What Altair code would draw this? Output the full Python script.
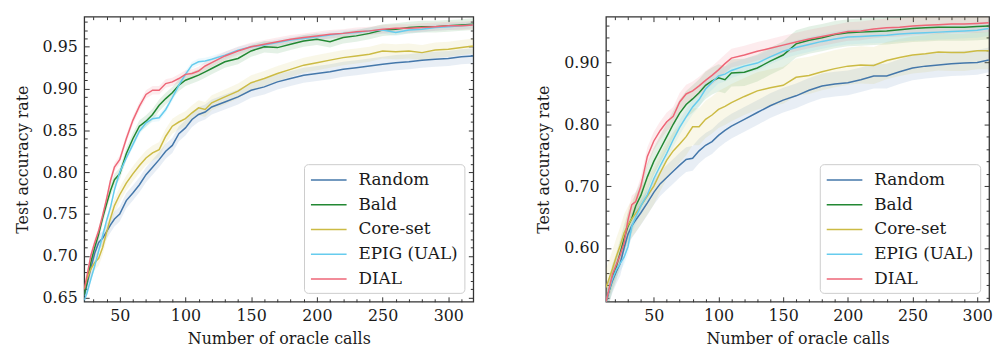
import altair as alt
import pandas as pd

METHODS = ["Random", "Bald", "Core-set", "EPIG (UAL)", "DIAL"]
COLORS = ["#4477AA", "#228833", "#CCBB44", "#66CCEE", "#EE6677"]

# ---------------- left panel ----------------
L_X = [23, 25, 28, 31, 34, 37, 40, 43, 46, 50, 55, 60, 65, 70, 75, 80, 85, 90, 95, 100,
       105, 110, 115, 120, 130, 140, 150, 160, 170, 180, 190, 200, 210, 220, 230, 240,
       250, 260, 270, 280, 290, 300, 310, 319]
L_RANDOM = [0.652, 0.665, 0.685, 0.703, 0.716, 0.721, 0.729, 0.737, 0.744, 0.750, 0.766,
            0.775, 0.785, 0.797, 0.806, 0.815, 0.825, 0.832, 0.846, 0.853, 0.863, 0.869,
            0.872, 0.878, 0.884, 0.890, 0.898, 0.902, 0.908, 0.912, 0.916, 0.918, 0.920,
            0.923, 0.925, 0.927, 0.929, 0.931, 0.932, 0.934, 0.935, 0.936, 0.938, 0.939]
L_BALD = [0.653, 0.668, 0.692, 0.710, 0.726, 0.745, 0.762, 0.778, 0.791, 0.798, 0.822,
          0.840, 0.855, 0.861, 0.869, 0.880, 0.888, 0.895, 0.904, 0.910, 0.913, 0.916,
          0.920, 0.924, 0.932, 0.936, 0.945, 0.950, 0.949, 0.953, 0.957, 0.959, 0.956,
          0.961, 0.963, 0.966, 0.970, 0.971, 0.973, 0.974, 0.974, 0.975, 0.976, 0.977]
L_CORESET = [0.660, 0.672, 0.684, 0.692, 0.697, 0.710, 0.728, 0.745, 0.760, 0.773, 0.787,
             0.798, 0.808, 0.817, 0.823, 0.827, 0.843, 0.855, 0.860, 0.864, 0.871, 0.877,
             0.875, 0.883, 0.890, 0.897, 0.907, 0.912, 0.918, 0.923, 0.928, 0.931, 0.934,
             0.937, 0.939, 0.941, 0.945, 0.944, 0.945, 0.943, 0.946, 0.947, 0.949, 0.951]
L_EPIG = [0.647, 0.655, 0.672, 0.688, 0.706, 0.724, 0.742, 0.758, 0.779, 0.800, 0.817,
          0.833, 0.849, 0.859, 0.864, 0.865, 0.875, 0.889, 0.904, 0.917, 0.928, 0.932,
          0.933, 0.935, 0.940, 0.946, 0.950, 0.952, 0.955, 0.958, 0.960, 0.962, 0.964,
          0.966, 0.967, 0.969, 0.970, 0.967, 0.970, 0.971, 0.973, 0.974, 0.975, 0.976]
L_DIAL = [0.660, 0.675, 0.700, 0.716, 0.730, 0.748, 0.768, 0.790, 0.806, 0.815, 0.840,
          0.862, 0.879, 0.893, 0.898, 0.898, 0.906, 0.908, 0.912, 0.917, 0.918, 0.921,
          0.927, 0.931, 0.939, 0.945, 0.950, 0.953, 0.956, 0.959, 0.961, 0.963, 0.965,
          0.966, 0.968, 0.969, 0.971, 0.972, 0.972, 0.973, 0.974, 0.975, 0.975, 0.976]
L_HALF = [0.009, 0.007, 0.009, 0.004, 0.005]

L_XTICKS = [50, 100, 150, 200, 250, 300]
L_XMINOR = [30, 40, 60, 70, 80, 90, 110, 120, 130, 140, 160, 170, 180, 190, 210, 220,
            230, 240, 260, 270, 280, 290, 310]
L_YTICKS = [0.65, 0.70, 0.75, 0.80, 0.85, 0.90, 0.95]
L_YMINOR = [round(0.65 + 0.01 * i, 2) for i in range(34) if i % 5]

# ---------------- right panel ----------------
R_X = [13, 15, 18, 21, 24, 27, 30, 33, 36, 40, 45, 50, 55, 60, 65, 70, 75, 80, 85, 90,
       95, 100, 105, 110, 120, 130, 140, 150, 160, 170, 180, 190, 200, 210, 220, 230,
       240, 250, 260, 270, 280, 290, 300, 309]
R_RANDOM = [0.513, 0.528, 0.547, 0.562, 0.575, 0.600, 0.622, 0.636, 0.645, 0.657, 0.673,
            0.690, 0.704, 0.714, 0.724, 0.734, 0.743, 0.745, 0.757, 0.766, 0.772, 0.782,
            0.790, 0.797, 0.808, 0.819, 0.830, 0.839, 0.846, 0.855, 0.862, 0.865, 0.867,
            0.872, 0.878, 0.878, 0.885, 0.891, 0.894, 0.896, 0.898, 0.899, 0.900, 0.904]
R_BALD = [0.513, 0.528, 0.552, 0.570, 0.592, 0.615, 0.635, 0.648, 0.668, 0.685, 0.715,
          0.740, 0.760, 0.780, 0.800, 0.818, 0.832, 0.841, 0.851, 0.863, 0.870, 0.875,
          0.872, 0.883, 0.884, 0.891, 0.902, 0.912, 0.930, 0.936, 0.940, 0.945, 0.948,
          0.949, 0.950, 0.951, 0.953, 0.955, 0.956, 0.957, 0.957, 0.957, 0.958, 0.959]
R_CORESET = [0.536, 0.548, 0.566, 0.586, 0.604, 0.624, 0.637, 0.647, 0.656, 0.668, 0.684,
             0.700, 0.722, 0.742, 0.757, 0.768, 0.780, 0.796, 0.796, 0.808, 0.815, 0.824,
             0.829, 0.835, 0.845, 0.854, 0.859, 0.863, 0.876, 0.879, 0.885, 0.890, 0.894,
             0.896, 0.895, 0.903, 0.908, 0.912, 0.914, 0.917, 0.916, 0.916, 0.919, 0.919]
R_EPIG = [0.513, 0.528, 0.550, 0.565, 0.575, 0.585, 0.602, 0.635, 0.650, 0.668, 0.686,
          0.712, 0.733, 0.753, 0.775, 0.795, 0.812, 0.828, 0.840, 0.857, 0.868, 0.878,
          0.881, 0.887, 0.894, 0.899, 0.909, 0.918, 0.924, 0.929, 0.934, 0.938, 0.941,
          0.942, 0.943, 0.944, 0.946, 0.947, 0.948, 0.949, 0.950, 0.951, 0.952, 0.955]
R_DIAL = [0.513, 0.530, 0.557, 0.573, 0.589, 0.608, 0.645, 0.670, 0.675, 0.700, 0.748,
          0.773, 0.790, 0.804, 0.813, 0.836, 0.849, 0.854, 0.862, 0.871, 0.879, 0.888,
          0.898, 0.907, 0.912, 0.918, 0.923, 0.928, 0.933, 0.938, 0.942, 0.946, 0.950,
          0.951, 0.954, 0.956, 0.957, 0.959, 0.960, 0.961, 0.962, 0.962, 0.963, 0.964]
R_HALF = [0.020, 0.022, 0.030, 0.012, 0.015]

R_XTICKS = [50, 100, 150, 200, 250, 300]
R_XMINOR = [20, 30, 40, 60, 70, 80, 90, 110, 120, 130, 140, 160, 170, 180, 190, 210, 220,
            230, 240, 260, 270, 280, 290]
R_YTICKS = [0.60, 0.70, 0.80, 0.90]
R_YMINOR = [round(0.52 + 0.02 * i, 2) for i in range(23)
            if round(0.52 + 0.02 * i, 2) not in (0.6, 0.7, 0.8, 0.9)]

FONT = "DejaVu Serif"


def build(xs, series, halves):
    rows = []
    for m, c, ys, h in zip(METHODS, COLORS, series, halves):
        for x, y in zip(xs, ys):
            rows.append({"x": x, "y": y, "lo": y - h, "hi": y + h, "method": m, "col": c})
    return pd.DataFrame(rows)


def panel(df, xdom, ydom, xt, xm, yt, ym, w, h):
    xs = alt.Scale(domain=xdom, nice=False, zero=False)
    ys = alt.Scale(domain=ydom, nice=False, zero=False)
    cscale = alt.Scale(domain=METHODS, range=COLORS)
    base = alt.Chart(df)

    band = base.mark_area(opacity=0.12, clip=True).encode(
        x=alt.X("x:Q", scale=xs, axis=None),
        y=alt.Y("lo:Q", scale=ys, axis=None),
        y2="hi:Q",
        fill=alt.Fill("col:N", scale=None),
        detail="method:N",
    )
    legend = alt.Legend(
        title=None, orient="bottom-right", offset=9,
        symbolType="M-1,0H3", symbolSize=324, symbolStrokeWidth=1.6,
        labelOffset=29, rowPadding=7, padding=6,
        fillColor="rgba(255,255,255,0.8)", strokeColor="#cccccc", cornerRadius=4,
        labelFont=FONT, labelFontSize=17, labelColor="#1a1a1a",
    )
    line = base.mark_line(strokeWidth=1.5, clip=True).encode(
        x=alt.X("x:Q", scale=xs, axis=alt.Axis(
            orient="bottom", values=xt, ticks=False, domain=False, grid=False,
            labelPadding=6, format="d", labelFlush=False,
            title="Number of oracle calls", titlePadding=7)),
        y=alt.Y("y:Q", scale=ys, axis=alt.Axis(
            orient="left", values=yt, ticks=False, domain=False, grid=False,
            labelPadding=7, format=".2f", labelFlush=False,
            title="Test accuracy rate", titlePadding=12)),
        color=alt.Color("method:N", scale=cscale, sort=METHODS, legend=legend),
    )

    def tick_axis(orient, values, size):
        return alt.Axis(orient=orient, values=values, labels=False, domain=False,
                        grid=False, tickSize=size, offset=-size, title=None)

    layers = [band, line]
    for ox, oy, vx, vy, sz in [
        ("bottom", "left", xt, yt, 5),
        ("bottom", "left", xm, ym, 3),
        ("top", "right", xt, yt, 5),
        ("top", "right", xm, ym, 3),
    ]:
        layers.append(base.mark_point(opacity=0, size=1).encode(
            x=alt.X("x:Q", scale=xs, axis=tick_axis(ox, vx, sz)),
            y=alt.Y("y:Q", scale=ys, axis=tick_axis(oy, vy, sz)),
        ))

    return alt.layer(*layers).resolve_axis(x="independent", y="independent").properties(
        width=w, height=h)


left = panel(build(L_X, [L_RANDOM, L_BALD, L_CORESET, L_EPIG, L_DIAL], L_HALF),
             [23, 319], [0.645, 0.986], L_XTICKS, L_XMINOR, L_YTICKS, L_YMINOR, 393, 288)
right = panel(build(R_X, [R_RANDOM, R_BALD, R_CORESET, R_EPIG, R_DIAL], R_HALF),
              [13, 309.2], [0.513, 0.974], R_XTICKS, R_XMINOR, R_YTICKS, R_YMINOR, 387, 288)

chart = alt.hconcat(left, right, spacing=60).resolve_scale(
    color="independent"
).configure_view(
    stroke="#333333", strokeWidth=1.3
).configure_axis(
    labelFont=FONT, labelFontSize=16, titleFont=FONT, titleFontSize=16,
    titleFontWeight="normal", labelColor="#1a1a1a", titleColor="#1a1a1a",
    tickColor="#333333", tickWidth=1, grid=False, domain=False,
)

chart.save("out.html", embed_options={"renderer": "svg", "actions": False})
